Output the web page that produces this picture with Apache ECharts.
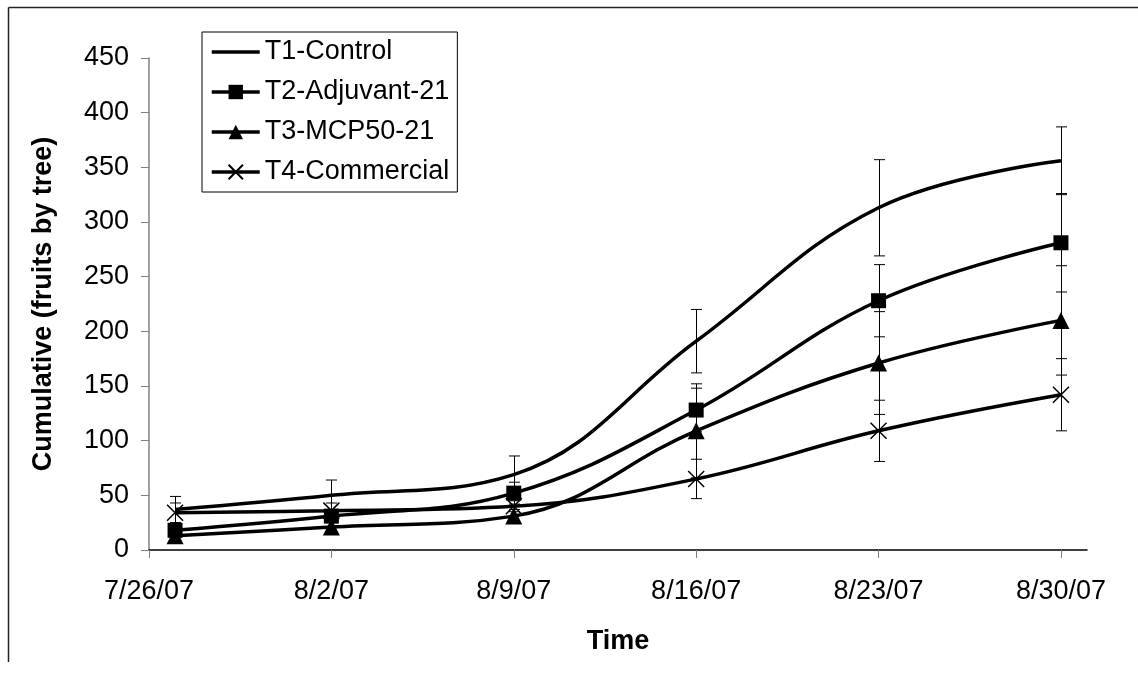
<!DOCTYPE html>
<html>
<head>
<meta charset="utf-8">
<script src="https://cdn.jsdelivr.net/npm/echarts@6/dist/echarts.min.js"></script>
<style>
  html, body { margin: 0; padding: 0; background: #fff; }
  #chart { width: 1138px; height: 673px; }
</style>
</head>
<body>
<div id="chart"></div>
<script>
// Sampling dates (one per week)
const sampleDates = ['2007-07-27', '2007-08-02', '2007-08-09', '2007-08-16', '2007-08-23', '2007-08-30'];

// Cumulative fruits per tree, by treatment
const seriesNames = ['T1-Control', 'T2-Adjuvant-21', 'T3-MCP50-21', 'T4-Commercial'];
const t1Control    = [37, 50, 69, 191, 313, 356];
const t2Adjuvant   = [18, 31, 52, 128, 228, 281];
const t3Mcp50      = [13, 21, 31, 109, 171, 210];
const t4Commercial = [34, 36, 40, 65, 109, 142];

// Error bar half-widths for each treatment
const t1Err = [12, 14, 17, 29, 44, 31];
const t2Err = [5, 5, 10, 20, 33, 45];
const t3Err = [4, 4, 6, 43, 47, 50];
const t4Err = [9, 7, 5, 18, 28, 33];

// Weekly axis ticks and the axis range
const tickDates = ['2007-07-26', '2007-08-02', '2007-08-09', '2007-08-16', '2007-08-23', '2007-08-30'];
const axisStart = '2007-07-26';
const axisEnd = '2007-08-31';
const yTicks = [0, 50, 100, 150, 200, 250, 300, 350, 400, 450];

const FONT = 'Liberation Sans, Arial, sans-serif';

function toUTC(s) {
  const p = s.split('-').map(Number);
  return Date.UTC(p[0], p[1] - 1, p[2]);
}
// Days elapsed since the first axis day
function dayIndex(s) {
  return Math.round((toUTC(s) - toUTC(axisStart)) / 86400000);
}
function shortDate(day) {
  const d = new Date(toUTC(axisStart) + day * 86400000);
  return (d.getUTCMonth() + 1) + '/' + d.getUTCDate() + '/' + String(d.getUTCFullYear()).slice(2);
}

const xs = sampleDates.map(dayIndex);
const values = [t1Control, t2Adjuvant, t3Mcp50, t4Commercial];
const errors = [t1Err, t2Err, t3Err, t4Err];
// T1 gets a transparent marker so only its line shows (also in the legend)
const symbols = ['rect', 'rect', 'triangle', 'path://M0,0L10,10M10,0L0,10'];
const symbolSizes = [2, 15, 17, 16];
const itemStyles = [
  { color: 'rgba(0,0,0,0)', borderWidth: 0 },
  { color: '#000', borderWidth: 0 },
  { color: '#000', borderWidth: 0 },
  { color: 'rgba(0,0,0,0)', borderColor: '#000', borderWidth: 1.5 }
];

const lineSeries = seriesNames.map((name, i) => ({
  name: name,
  type: 'line',
  smooth: 0.4,
  z: 3,
  data: xs.map((x, j) => [x, values[i][j]]),
  symbol: symbols[i],
  symbolSize: symbolSizes[i],
  showSymbol: i !== 0,
  lineStyle: { color: '#000', width: 3.5 },
  itemStyle: itemStyles[i],
  emphasis: { disabled: true }
}));

// Error bars: vertical whisker with caps, drawn through the axis scales
const errorData = [];
values.forEach((vals, i) => {
  vals.forEach((v, j) => {
    errorData.push([xs[j], v - errors[i][j], v + errors[i][j]]);
  });
});

const errorSeries = {
  type: 'custom',
  name: 'error',
  z: 2,
  silent: true,
  encode: { x: 0, y: [1, 2] },
  data: errorData,
  renderItem: function (params, api) {
    const x = api.value(0);
    const hi = api.coord([x, api.value(2)]);
    const lo = api.coord([x, api.value(1)]);
    const cx = Math.round(hi[0]) + 0.5;
    const w = 5.5;
    const st = { stroke: '#000', lineWidth: 1 };
    return {
      type: 'group',
      children: [
        { type: 'line', shape: { x1: cx, y1: hi[1], x2: cx, y2: lo[1] }, style: st },
        { type: 'line', shape: { x1: cx - w, y1: hi[1], x2: cx + w, y2: hi[1] }, style: st },
        { type: 'line', shape: { x1: cx - w, y1: lo[1], x2: cx + w, y2: lo[1] }, style: st }
      ]
    };
  }
};

const chart = echarts.init(document.getElementById('chart'), null, { renderer: 'canvas' });

chart.setOption({
  animation: false,
  backgroundColor: '#fff',
  textStyle: { fontFamily: FONT },
  grid: { left: 149, right: 51, top: 58, bottom: 123 },
  legend: {
    data: seriesNames,
    orient: 'vertical',
    left: 202,
    top: 32,
    padding: [5, 8, 5, 8],
    itemGap: 10,
    itemWidth: 48,
    itemHeight: 18,
    borderColor: '#000',
    borderWidth: 1,
    backgroundColor: '#fff',
    selectedMode: false,
    lineStyle: { width: 3.5 },
    textStyle: { fontFamily: FONT, fontSize: 27, color: '#000', lineHeight: 30 }
  },
  xAxis: {
    type: 'value',
    min: 0,
    max: dayIndex(axisEnd),
    name: 'Time',
    nameLocation: 'middle',
    nameGap: 78,
    nameTextStyle: { fontFamily: FONT, fontSize: 27, fontWeight: 'bold', color: '#000' },
    axisLine: { show: true, lineStyle: { color: '#000', width: 1.5 } },
    axisTick: {
      show: true, length: 8, inside: false,
      customValues: tickDates.map(dayIndex),
      lineStyle: { color: '#808080', width: 1 }
    },
    axisLabel: {
      customValues: tickDates.map(dayIndex),
      formatter: shortDate,
      margin: 28,
      fontFamily: FONT, fontSize: 27, color: '#000'
    },
    splitLine: { show: false }
  },
  yAxis: {
    type: 'value',
    min: yTicks[0],
    max: yTicks[yTicks.length - 1],
    interval: 50,
    name: 'Cumulative (fruits by tree)',
    nameLocation: 'middle',
    nameGap: 92,
    nameTextStyle: { fontFamily: FONT, fontSize: 27, fontWeight: 'bold', color: '#000' },
    axisLine: { show: true, lineStyle: { color: '#808080', width: 1.5 } },
    axisTick: { show: true, length: 8, lineStyle: { color: '#808080', width: 1 } },
    axisLabel: { margin: 20, fontFamily: FONT, fontSize: 27, color: '#000' },
    splitLine: { show: false }
  },
  graphic: [
    { type: 'line', shape: { x1: 8.5, y1: 7.5, x2: 1138, y2: 7.5 }, style: { stroke: '#222', lineWidth: 1.5 } },
    { type: 'line', shape: { x1: 8.5, y1: 7.5, x2: 8.5, y2: 662 }, style: { stroke: '#222', lineWidth: 1.5 } }
  ],
  series: [errorSeries].concat(lineSeries)
});
</script>
</body>
</html>
